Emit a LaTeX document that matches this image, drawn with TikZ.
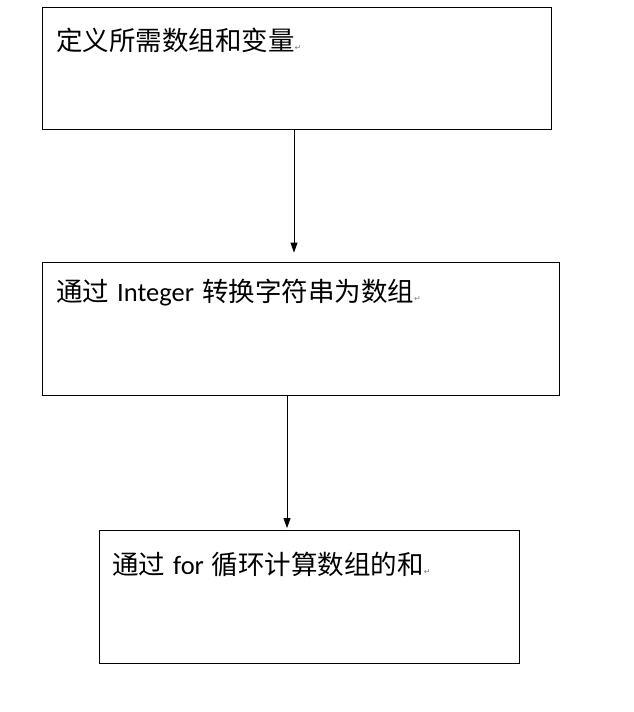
\documentclass[tikz,border=0pt]{standalone}
\usepackage{fontspec}
\setmainfont{Carlito}
\newfontfamily\cjk{Noto Sans CJK SC}
\newfontfamily\dejavu{DejaVu Sans}
\usetikzlibrary{arrows.meta}
\newcommand{\pmark}{{\fontsize{8}{9}\selectfont\dejavu\color{gray}↵}}
\newcommand{\gapx}{\hspace{8pt}}
\begin{document}
\begin{tikzpicture}[x=1pt,y=-1pt,
  box/.style={draw=black,line width=0.8pt,inner sep=0pt},
  txt/.style={anchor=west,inner sep=0pt,font=\fontsize{26.5}{29}\selectfont},
  arr/.style={line width=0.8pt,-{Triangle[width=7pt,length=10pt]}}]
\useasboundingbox (0,0) rectangle (634,712);
\fill[white] (0,0) rectangle (634,712);
\node[box,minimum width=509pt,minimum height=122pt] (b1) at (296.5,68) {};
\node[box,minimum width=517pt,minimum height=133pt] (b2) at (300.5,328.5) {};
\node[box,minimum width=420pt,minimum height=133pt] (b3) at (309,597) {};
\node[txt] (t1) at (56,40) {{\cjk 定义所需数组和变量}\pmark};
\node[txt] (t2) at (56,293) {{\cjk 通过}\gapx Integer\gapx{\cjk 转换字符串为数组}\pmark};
\node[txt] (t3) at (112,564) {{\cjk 通过}\gapx for\gapx{\cjk 循环计算数组的和}\pmark};
\draw[arr] (b1.south -| 294,0) -- ([yshift=9pt]b2.north -| 294,0);
\draw[arr] (b2.south -| 287,0) -- ([yshift=2pt]b3.north -| 287,0);
\end{tikzpicture}
\end{document}
